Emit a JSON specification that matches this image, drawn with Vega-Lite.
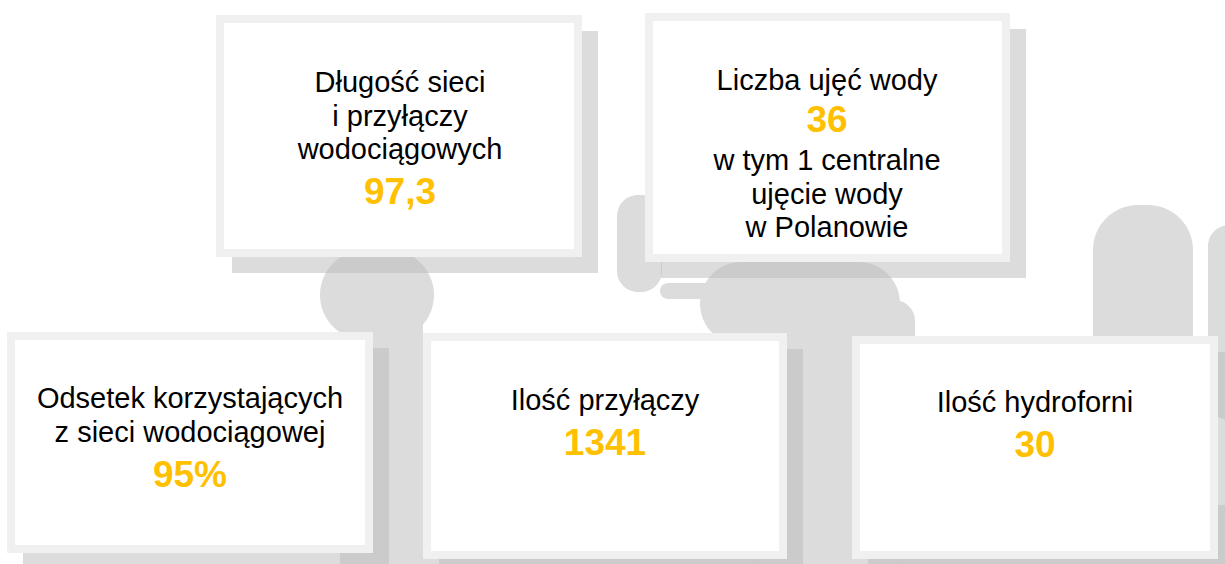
{
  "$schema": "https://vega.github.io/schema/vega-lite/v6.json",
  "width": 1225,
  "height": 564,
  "autosize": {"type": "none"},
  "padding": 0,
  "background": "white",
  "config": {"view": {"stroke": null}},
  "datasets": {
    "cards": [
      {"card": 1, "x0": 216, "x1": 582, "y0": 15, "y1": 257, "cx": 400, "title": "Długość sieci|i przyłączy|wodociągowych", "ty": 92, "value": "97,3", "vy": 204, "note": null, "ny": null},
      {"card": 2, "x0": 645, "x1": 1010, "y0": 13, "y1": 262, "cx": 827, "title": "Liczba ujęć wody", "ty": 90, "value": "36", "vy": 132, "note": "w tym 1 centralne|ujęcie wody|w Polanowie", "ny": 170},
      {"card": 3, "x0": 7, "x1": 373, "y0": 332, "y1": 553, "cx": 190, "title": "Odsetek korzystających|z sieci wodociągowej", "ty": 408, "value": "95%", "vy": 487, "note": null, "ny": null},
      {"card": 4, "x0": 423, "x1": 787, "y0": 333, "y1": 559, "cx": 605, "title": "Ilość przyłączy", "ty": 410, "value": "1341", "vy": 455, "note": null, "ny": null},
      {"card": 5, "x0": 852, "x1": 1218, "y0": 336, "y1": 559, "cx": 1035, "title": "Ilość hydroforni", "ty": 412, "value": "30", "vy": 457, "note": null, "ny": null}
    ],
    "shapes": [
      {"part": "head", "round": "big", "x0": 320, "x1": 434, "y0": 250, "y1": 340},
      {"part": "stem", "round": "none", "x0": 373, "x1": 423, "y0": 320, "y1": 564},
      {"part": "hook", "round": "mid", "x0": 617, "x1": 662, "y0": 195, "y1": 292},
      {"part": "beak", "round": "small", "x0": 660, "x1": 770, "y0": 283, "y1": 299},
      {"part": "body", "round": "big", "x0": 700, "x1": 900, "y0": 262, "y1": 345},
      {"part": "bodylow", "round": "mid", "x0": 745, "x1": 915, "y0": 300, "y1": 564},
      {"part": "handle", "round": "big", "x0": 1093, "x1": 1193, "y0": 205, "y1": 420},
      {"part": "edge", "round": "mid", "x0": 1208, "x1": 1250, "y0": 225, "y1": 420},
      {"part": "basin", "round": "none", "x0": 340, "x1": 1225, "y0": 505, "y1": 564}
    ]
  },
  "layer": [
    {
      "data": {"name": "shapes"},
      "transform": [{"filter": "datum.round == 'none'"}],
      "mark": {"type": "rect", "color": "#dcdcdc", "clip": true},
      "encoding": {
        "x": {"field": "x0", "type": "quantitative", "scale": {"domain": [0, 1225], "nice": false, "zero": false}, "axis": null},
        "x2": {"field": "x1"},
        "y": {"field": "y0", "type": "quantitative", "scale": {"domain": [0, 564], "nice": false, "zero": false, "reverse": true}, "axis": null},
        "y2": {"field": "y1"}
      }
    },
    {
      "data": {"name": "shapes"},
      "transform": [{"filter": "datum.round == 'big'"}],
      "mark": {"type": "rect", "color": "#dcdcdc", "cornerRadius": 45, "clip": true},
      "encoding": {
        "x": {"field": "x0", "type": "quantitative"},
        "x2": {"field": "x1"},
        "y": {"field": "y0", "type": "quantitative"},
        "y2": {"field": "y1"}
      }
    },
    {
      "data": {"name": "shapes"},
      "transform": [{"filter": "datum.round == 'mid'"}],
      "mark": {"type": "rect", "color": "#dcdcdc", "cornerRadius": 21, "clip": true},
      "encoding": {
        "x": {"field": "x0", "type": "quantitative"},
        "x2": {"field": "x1"},
        "y": {"field": "y0", "type": "quantitative"},
        "y2": {"field": "y1"}
      }
    },
    {
      "data": {"name": "shapes"},
      "transform": [{"filter": "datum.round == 'small'"}],
      "mark": {"type": "rect", "color": "#dcdcdc", "cornerRadius": 8, "clip": true},
      "encoding": {
        "x": {"field": "x0", "type": "quantitative"},
        "x2": {"field": "x1"},
        "y": {"field": "y0", "type": "quantitative"},
        "y2": {"field": "y1"}
      }
    },
    {
      "data": {"name": "cards"},
      "mark": {"type": "rect", "color": "#bbbbbb", "opacity": 0.51, "xOffset": 16, "x2Offset": 16, "yOffset": 16, "y2Offset": 16},
      "encoding": {
        "x": {"field": "x0", "type": "quantitative"},
        "x2": {"field": "x1"},
        "y": {"field": "y0", "type": "quantitative"},
        "y2": {"field": "y1"}
      }
    },
    {
      "data": {"name": "cards"},
      "mark": {"type": "rect", "color": "#f0f0f0"},
      "encoding": {
        "x": {"field": "x0", "type": "quantitative"},
        "x2": {"field": "x1"},
        "y": {"field": "y0", "type": "quantitative"},
        "y2": {"field": "y1"}
      }
    },
    {
      "data": {"name": "cards"},
      "mark": {"type": "rect", "color": "#ffffff", "xOffset": 8, "x2Offset": -8, "yOffset": 8, "y2Offset": -8},
      "encoding": {
        "x": {"field": "x0", "type": "quantitative"},
        "x2": {"field": "x1"},
        "y": {"field": "y0", "type": "quantitative"},
        "y2": {"field": "y1"}
      }
    },
    {
      "data": {"name": "cards"},
      "mark": {"type": "text", "font": "Liberation Sans", "fontSize": 29, "color": "#000000", "align": "center", "baseline": "alphabetic", "lineBreak": "|", "lineHeight": 33.5},
      "encoding": {
        "x": {"field": "cx", "type": "quantitative"},
        "y": {"field": "ty", "type": "quantitative"},
        "text": {"field": "title"}
      }
    },
    {
      "data": {"name": "cards"},
      "mark": {"type": "text", "font": "Liberation Sans", "fontSize": 37, "fontWeight": "bold", "color": "#FFC000", "align": "center", "baseline": "alphabetic"},
      "encoding": {
        "x": {"field": "cx", "type": "quantitative"},
        "y": {"field": "vy", "type": "quantitative"},
        "text": {"field": "value"}
      }
    },
    {
      "data": {"name": "cards"},
      "transform": [{"filter": "datum.note != null"}],
      "mark": {"type": "text", "font": "Liberation Sans", "fontSize": 29, "color": "#000000", "align": "center", "baseline": "alphabetic", "lineBreak": "|", "lineHeight": 33.5},
      "encoding": {
        "x": {"field": "cx", "type": "quantitative"},
        "y": {"field": "ny", "type": "quantitative"},
        "text": {"field": "note"}
      }
    }
  ]
}
